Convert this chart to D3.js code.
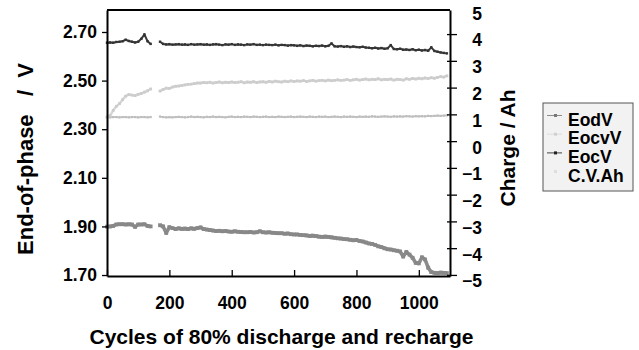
<!DOCTYPE html>
<html>
<head>
<meta charset="utf-8">
<script src="https://cdn.jsdelivr.net/npm/d3@7"></script>
<style>
  body { margin: 0; background: #fff; }
  svg text { font-family: "Liberation Sans", Arial, sans-serif; font-weight: bold; }
</style>
</head>
<body>
<svg width="639" height="350"></svg>
<script>
// cycle number of every sample (150 and 160 are missing in the record)
var cycles = [0,10,20,30,40,50,60,70,80,90,100,110,120,130,140,150,160,170,180,190,
  200,210,220,230,240,250,260,270,280,290,300,310,320,330,340,350,360,370,380,390,
  400,410,420,430,440,450,460,470,480,490,500,510,520,530,540,550,560,570,580,590,
  600,610,620,630,640,650,660,670,680,690,700,710,720,730,740,750,760,770,780,790,
  800,810,820,830,840,850,860,870,880,890,900,910,920,930,940,950,960,970,980,990,
  1000,1010,1020,1030,1040,1050,1060,1070,1080,1090];

var eodV = [1.899,1.900,1.902,1.908,1.909,1.909,1.908,1.909,1.908,1.898,1.908,1.908,1.909,1.902,1.900,null,null,1.905,1.900,1.873,
  1.897,1.893,1.889,1.892,1.890,1.891,1.889,1.892,1.890,1.893,1.896,1.889,1.887,1.885,1.883,1.881,1.882,1.880,1.881,1.879,
  1.878,1.880,1.878,1.877,1.876,1.876,1.877,1.875,1.876,1.880,1.876,1.875,1.876,1.874,1.873,1.872,1.872,1.870,1.871,1.868,
  1.867,1.867,1.865,1.864,1.863,1.861,1.862,1.860,1.858,1.857,1.858,1.857,1.855,1.853,1.851,1.850,1.848,1.847,1.845,1.843,
  1.844,1.840,1.838,1.834,1.830,1.828,1.824,1.818,1.815,1.810,1.806,1.805,1.802,1.800,1.797,1.776,1.795,1.784,1.771,1.750,
  1.748,1.773,1.764,1.730,1.712,1.709,1.708,1.710,1.709,1.708];

var eocvV = [2.350,2.349,2.350,2.350,2.349,2.350,2.350,2.349,2.350,2.350,2.349,2.350,2.350,2.349,2.350,null,null,2.352,2.350,2.349,
  2.350,2.349,2.350,2.351,2.350,2.349,2.350,2.352,2.350,2.351,2.350,2.349,2.351,2.350,2.352,2.350,2.351,2.350,2.349,2.351,
  2.352,2.350,2.351,2.350,2.352,2.351,2.350,2.352,2.351,2.350,2.351,2.352,2.350,2.351,2.350,2.352,2.351,2.350,2.351,2.352,
  2.350,2.351,2.352,2.351,2.350,2.352,2.351,2.350,2.352,2.351,2.352,2.350,2.351,2.352,2.351,2.350,2.352,2.351,2.352,2.351,
  2.350,2.352,2.351,2.352,2.351,2.353,2.352,2.351,2.352,2.353,2.352,2.351,2.353,2.352,2.353,2.352,2.354,2.353,2.352,2.354,
  2.353,2.354,2.353,2.355,2.354,2.355,2.356,2.355,2.356,2.357];

var eocV = [2.656,2.657,2.656,2.659,2.660,2.662,2.668,2.663,2.660,2.657,2.660,2.672,2.690,2.662,2.651,null,null,2.660,2.651,2.649,
  2.650,2.648,2.649,2.650,2.648,2.649,2.647,2.650,2.648,2.649,2.650,2.648,2.649,2.647,2.649,2.650,2.648,2.646,2.649,2.648,
  2.650,2.647,2.649,2.648,2.646,2.649,2.648,2.650,2.647,2.648,2.646,2.648,2.647,2.646,2.648,2.645,2.647,2.646,2.644,2.646,
  2.645,2.643,2.645,2.642,2.644,2.643,2.641,2.643,2.642,2.644,2.641,2.643,2.653,2.641,2.640,2.642,2.639,2.641,2.638,2.640,
  2.638,2.637,2.639,2.636,2.635,2.633,2.635,2.632,2.634,2.631,2.633,2.646,2.630,2.629,2.631,2.627,2.628,2.626,2.629,2.625,
  2.627,2.624,2.626,2.623,2.637,2.622,2.619,2.616,2.614,2.612];

var cvAh = [0.90,0.95,1.15,1.30,1.40,1.55,1.68,1.74,1.72,1.70,1.75,1.78,1.83,1.88,1.95,null,null,1.87,1.93,1.98,
  1.97,2.02,2.05,2.06,2.08,2.10,2.12,2.13,2.15,2.17,2.17,2.19,2.18,2.20,2.17,2.19,2.21,2.18,2.20,2.19,
  2.21,2.19,2.20,2.22,2.18,2.21,2.20,2.22,2.19,2.21,2.22,2.20,2.23,2.21,2.24,2.22,2.21,2.24,2.22,2.25,
  2.23,2.25,2.24,2.26,2.23,2.25,2.27,2.24,2.26,2.27,2.25,2.28,2.26,2.27,2.29,2.27,2.28,2.30,2.27,2.29,
  2.31,2.28,2.30,2.32,2.29,2.31,2.30,2.33,2.29,2.31,2.30,2.32,2.28,2.31,2.30,2.28,2.33,2.31,2.34,2.32,
  2.35,2.33,2.36,2.34,2.37,2.35,2.38,2.41,2.39,2.44];

var leftTicks = [1.70, 1.90, 2.10, 2.30, 2.50, 2.70];
var rightTicks = [-5,-4,-3,-2,-1,0,1,2,3,4,5];
var xTicks = [0, 200, 400, 600, 800, 1000];

var seriesNames = ["EodV", "EocvV", "EocV", "C.V.Ah"];

var svg = d3.select("svg"),
    margin = {top: 10, right: 189, bottom: 74, left: 107},
    width = +svg.attr("width") - margin.left - margin.right,
    height = +svg.attr("height") - margin.top - margin.bottom,
    g = svg.append("g").attr("transform", "translate(" + margin.left + "," + margin.top + ")");

var x = d3.scaleLinear().domain([0, 1100]).range([0, width]);
var yL = d3.scaleLinear().domain([1.696, 2.7905]).range([height, 0]);
var yR = d3.scaleLinear().domain([-5.04, 4.9]).range([height, 0]);

function rows(vals) {
  return cycles.map(function(c, i) { return {c: c, v: vals[i]}; });
}

var series = [
  {name: "EocvV", data: rows(eocvV), y: yL, color: "#c4c4c4", width: 1.8, mark: 2.2, markColor: "#bdbdbd"},
  {name: "C.V.Ah", data: rows(cvAh), y: yR, color: "#d6d6d6", width: 2.4, mark: 2.8, markColor: "#cccccc"},
  {name: "EodV", data: rows(eodV), y: yL, color: "#8c8c8c", width: 3.6, mark: 3.8, markColor: "#888"},
  {name: "EocV", data: rows(eocV), y: yL, color: "#3c3c3c", width: 2, mark: 2.4, markColor: "#333"}
];

series.forEach(function(s) {
  var line = d3.line()
    .defined(function(d) { return d.v != null; })
    .x(function(d) { return x(d.c); })
    .y(function(d) { return s.y(d.v); });

  g.append("path")
      .datum(s.data)
      .attr("fill", "none")
      .attr("stroke", s.color)
      .attr("stroke-width", s.width)
      .attr("stroke-linejoin", "round")
      .attr("d", line);

  g.append("g").selectAll("rect")
    .data(s.data.filter(function(d) { return d.v != null; }))
    .enter().append("rect")
      .attr("x", function(d) { return x(d.c) - s.mark / 2; })
      .attr("y", function(d) { return s.y(d.v) - s.mark / 2; })
      .attr("width", s.mark)
      .attr("height", s.mark)
      .attr("fill", s.markColor);
});

// frame top
g.append("line")
    .attr("x1", 0).attr("x2", width)
    .attr("y1", 0).attr("y2", 0)
    .attr("stroke", "#000").attr("stroke-width", 2);

var xAxis = g.append("g")
    .attr("transform", "translate(0," + height + ")")
    .call(d3.axisBottom(x).tickValues(xTicks).tickFormat(d3.format("d")).tickSizeInner(-6).tickSizeOuter(0).tickPadding(21));

var lAxis = g.append("g")
    .call(d3.axisLeft(yL).tickValues(leftTicks).tickFormat(d3.format(".2f")).tickSizeInner(5).tickSizeOuter(0).tickPadding(5));

var rAxis = g.append("g")
    .attr("transform", "translate(" + width + ",0)")
    .call(d3.axisRight(yR).tickValues(rightTicks).tickFormat(d3.format("d")).tickSizeInner(7).tickSizeOuter(0).tickPadding(25));

rAxis.selectAll(".tick line").attr("x1", -3);
rAxis.selectAll(".tick").filter(function(d) { return d === 5; }).select("line").remove();
rAxis.selectAll(".tick text").attr("text-anchor", "end").attr("dy", "0.68em");

[xAxis, lAxis, rAxis].forEach(function(a) {
  a.select(".domain").attr("stroke-width", 2);
  a.selectAll(".tick line").attr("stroke-width", 1.3);
  a.selectAll(".tick text").attr("font-size", 17.5).attr("font-family", null).attr("fill", "#000");
});

svg.append("text")
    .attr("x", margin.left + width / 2 + 3)
    .attr("y", 344)
    .attr("text-anchor", "middle")
    .attr("font-size", 21)
    .text("Cycles of 80% discharge and recharge");

svg.append("text")
    .attr("transform", "translate(33,159) rotate(-90)")
    .attr("text-anchor", "middle")
    .attr("font-size", 22)
    .attr("xml:space", "preserve")
    .style("white-space", "pre")
    .text("End-of-phase   /  V");

svg.append("text")
    .attr("transform", "translate(515,148) rotate(-90)")
    .attr("text-anchor", "middle")
    .attr("font-size", 21)
    .text("Charge / Ah");

// legend
var legend = svg.append("g").attr("transform", "translate(543,103)");
legend.append("rect")
    .attr("width", 90).attr("height", 88)
    .attr("fill", "#f2f2f2").attr("stroke", "#555").attr("stroke-width", 1);

var legendStyle = {
  "EodV": {color: "#8c8c8c", mark: "#777"},
  "EocvV": {color: "#dcdcdc", mark: "#d0d0d0"},
  "EocV": {color: "#444", mark: "#222"},
  "C.V.Ah": {color: "none", mark: "#dddddd"}
};

var item = legend.selectAll(".item")
  .data(seriesNames)
  .enter().append("g")
    .attr("transform", function(d, i) { return "translate(0," + (22.5 + i * 18.7) + ")"; });

item.append("line")
    .attr("x1", 4).attr("x2", 19)
    .attr("y1", -10).attr("y2", -10)
    .attr("stroke", function(d) { return legendStyle[d].color; })
    .attr("stroke-width", 1);

item.append("rect")
    .attr("x", 11).attr("y", -11.5)
    .attr("width", 3).attr("height", 3)
    .attr("fill", function(d) { return legendStyle[d].mark; });

item.append("text")
    .attr("x", 25)
    .attr("font-size", 17.5)
    .text(function(d) { return d; });
</script>
</body>
</html>
